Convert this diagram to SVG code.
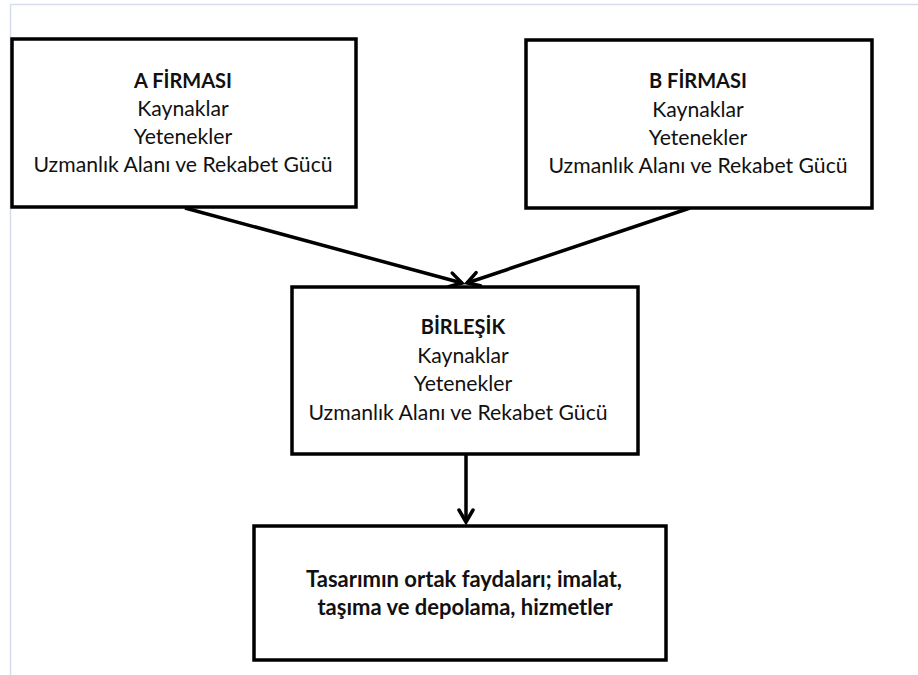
<svg xmlns="http://www.w3.org/2000/svg" width="918" height="675" viewBox="0 0 918 675">
<style>
.box{fill:#fff;stroke:#000;stroke-width:3.5}
.t{font-family:Lato,"Liberation Sans",sans-serif;font-size:21.2px;fill:#111;text-anchor:middle}
.h{font-weight:bold;font-size:20px}
.b{font-weight:bold;font-size:22px}
.con{stroke:#000;stroke-width:3.5;fill:none}
</style>
<defs>
<marker id="arr" markerUnits="userSpaceOnUse" markerWidth="30" markerHeight="30" viewBox="-15 -15 30 30" refX="0" refY="0" orient="auto" overflow="visible">
<path d="M -12 -7 L 0 0 L -12 7" fill="none" stroke="#000" stroke-width="3.5" stroke-linecap="round" stroke-linejoin="miter"/>
</marker>
</defs>
<rect x="0" y="0" width="918" height="675" fill="#fff"/>
<path d="M 10.5 675 V 4.5 H 918" fill="none" stroke="#d6dde8" stroke-width="1.5"/>
<g id="connectors">
<line class="con" x1="185" y1="208" x2="462" y2="283" marker-end="url(#arr)"/>
<line class="con" x1="690" y1="208" x2="467" y2="283" marker-end="url(#arr)"/>
<line class="con" x1="466" y1="455" x2="466" y2="522" marker-end="url(#arr)"/>
</g>
<g id="firmaA">
<rect class="box" x="12" y="39" width="344" height="168"/>
<text class="t h" x="183" y="88">A FİRMASI</text>
<text class="t" x="183" y="116">Kaynaklar</text>
<text class="t" x="183" y="144">Yetenekler</text>
<text class="t" x="183" y="172">Uzmanlık Alanı ve Rekabet Gücü</text>
</g>
<g id="firmaB">
<rect class="box" x="526" y="40" width="346" height="168"/>
<text class="t h" x="698" y="88">B FİRMASI</text>
<text class="t" x="698" y="117">Kaynaklar</text>
<text class="t" x="698" y="145">Yetenekler</text>
<text class="t" x="698" y="173">Uzmanlık Alanı ve Rekabet Gücü</text>
</g>
<g id="birlesik">
<rect class="box" x="292" y="287" width="346" height="167"/>
<text class="t h" x="463" y="334">BİRLEŞİK</text>
<text class="t" x="463" y="363">Kaynaklar</text>
<text class="t" x="463" y="391">Yetenekler</text>
<text class="t" x="458" y="420">Uzmanlık Alanı ve Rekabet Gücü</text>
</g>
<g id="sonuc">
<rect class="box" x="254" y="526" width="412" height="134"/>
<text class="t b" x="464" y="587">Tasarımın ortak faydaları; imalat,</text>
<text class="t b" x="465" y="615">taşıma ve depolama, hizmetler</text>
</g>
</svg>
